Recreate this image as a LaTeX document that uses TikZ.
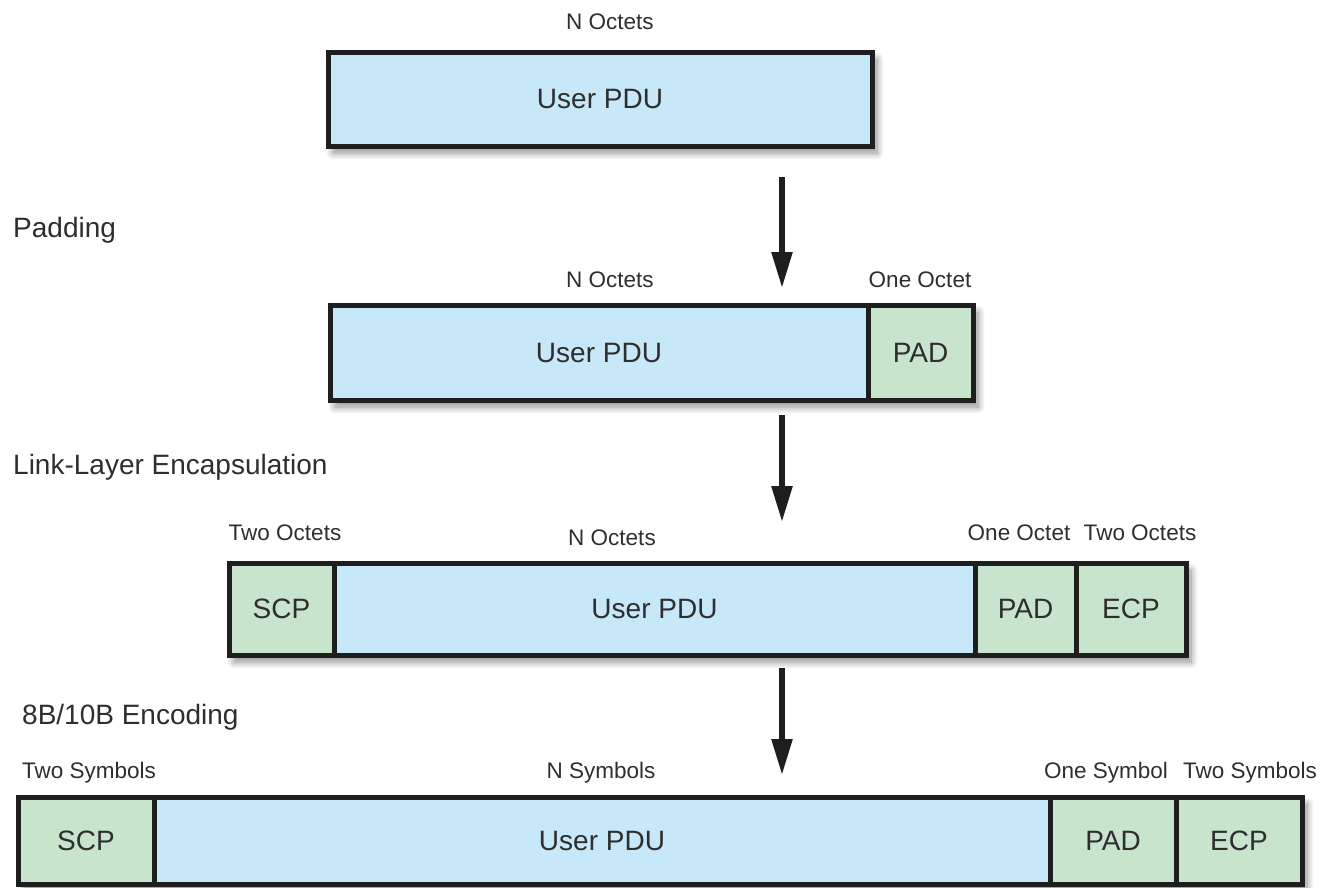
\documentclass[tikz,border=0pt]{standalone}
\usepackage{fontspec}
\setmainfont{Liberation Sans}
\usetikzlibrary{arrows.meta,shadows.blur}
\definecolor{pdublue}{HTML}{C6E8F8}
\definecolor{padgreen}{HTML}{C9E4CD}
\definecolor{edge}{HTML}{1E1E1E}
\definecolor{ink}{HTML}{2E2E2E}
\begin{document}
\begin{tikzpicture}[x=1pt,y=-1pt,
  rowframe/.style={rectangle, inner sep=0pt, fill=white,
    blur shadow={shadow xshift=5pt, shadow yshift=-7pt, shadow blur radius=7pt,
      shadow blur steps=12, shadow opacity=45}},
  cell/.style={rectangle, draw=edge, line width=5pt, inner sep=0pt,
    text=ink, font=\fontsize{28}{30}\selectfont},
  pdu/.style={cell, fill=pdublue},
  ctrl/.style={cell, fill=padgreen},
  size/.style={text=ink, inner sep=0pt, font=\fontsize{22.5}{25}\selectfont},
  stage/.style={text=ink, inner sep=0pt, anchor=west, font=\fontsize{28}{30}\selectfont},
  flow/.style={draw=edge, line width=5.5pt, -{Triangle[length=36pt,width=20pt]}}]
\useasboundingbox (0,0) rectangle (1323,887);

% ---- stage 1: user PDU
\node[size] (l1) at (610,22) {N Octets};
\node[rowframe, minimum width=544pt, minimum height=94pt] (r1) at (600,99) {};
\node[pdu, minimum width=544pt, minimum height=94pt] (u1) at (600,99) {User PDU};

% ---- stage 2: padding
\node[stage] (s2) at (13,230) {Padding};
\node[size] (l2a) at (610,280) {N Octets};
\node[size] (l2b) at (920,280) {One Octet};
\node[rowframe, minimum width=643pt, minimum height=95pt] (r2) at (651.5,352.5) {};
\node[pdu, minimum width=538pt, minimum height=95pt] (u2) at (599,352.5) {User PDU};
\node[ctrl, minimum width=105pt, minimum height=95pt] (p2) at (920.5,352.5) {PAD};

% ---- stage 3: link-layer encapsulation
\node[stage] (s3) at (13,467) {Link-Layer Encapsulation};
\node[size] (l3a) at (285,533) {Two Octets};
\node[size] (l3b) at (612,538) {N Octets};
\node[size] (l3c) at (1019,533) {One Octet};
\node[size] (l3d) at (1140,533) {Two Octets};
\node[rowframe, minimum width=957pt, minimum height=92pt] (r3) at (707.5,609) {};
\node[ctrl, minimum width=105pt, minimum height=92pt] (c3) at (281.5,609) {SCP};
\node[pdu, minimum width=641pt, minimum height=92pt] (u3) at (654.5,609) {User PDU};
\node[ctrl, minimum width=101pt, minimum height=92pt] (p3) at (1025.5,609) {PAD};
\node[ctrl, minimum width=110pt, minimum height=92pt] (e3) at (1131,609) {ECP};

% ---- stage 4: 8B/10B encoding
\node[stage] (s4) at (22,717) {8B/10B Encoding};
\node[size] (l4a) at (89,773) {Two Symbols};
\node[size] (l4b) at (601,773) {N Symbols};
\node[size] (l4c) at (1106,773) {One Symbol};
\node[size] (l4d) at (1250,773) {Two Symbols};
\node[rowframe, minimum width=1284pt, minimum height=87pt] (r4) at (660,840.5) {};
\node[ctrl, minimum width=136pt, minimum height=87pt] (c4) at (86,840.5) {SCP};
\node[pdu, minimum width=896pt, minimum height=87pt] (u4) at (602,840.5) {User PDU};
\node[ctrl, minimum width=126pt, minimum height=87pt] (p4) at (1113,840.5) {PAD};
\node[ctrl, minimum width=126pt, minimum height=87pt] (e4) at (1239,840.5) {ECP};

% ---- transformation arrows
\coordinate (a1s) at (782,177);
\coordinate (a1e) at (782,288);
\coordinate (a2s) at (782,415);
\coordinate (a2e) at (782,522);
\coordinate (a3s) at (782,668);
\coordinate (a3e) at (782,775);
\draw[flow] (a1s) -- (a1e);
\draw[flow] (a2s) -- (a2e);
\draw[flow] (a3s) -- (a3e);
\end{tikzpicture}
\end{document}
